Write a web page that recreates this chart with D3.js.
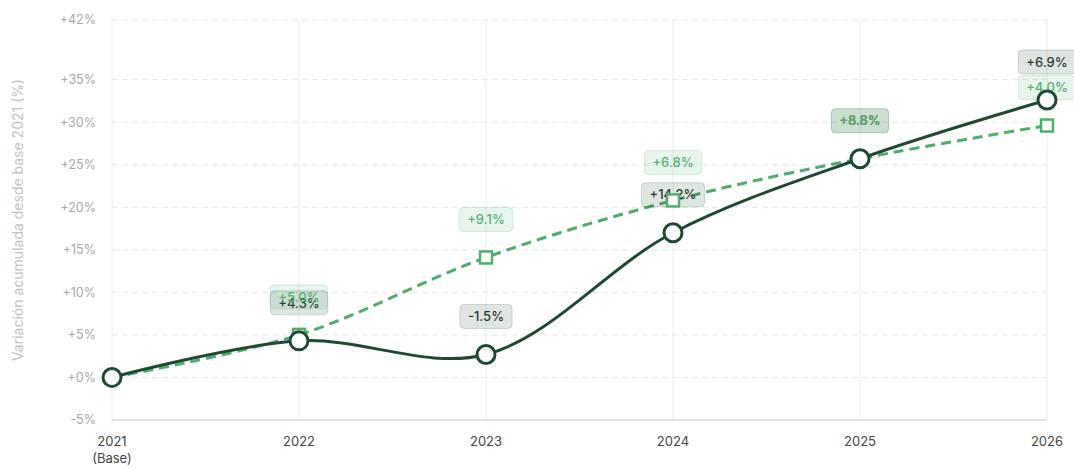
<!DOCTYPE html>
<html>
<head>
<meta charset="utf-8">
<script src="https://cdn.jsdelivr.net/npm/d3@7"></script>
<style>
  body { margin: 0; background: #fff; font-family: Inter, "Noto Sans", sans-serif; }
</style>
</head>
<body>
<div id="chart"></div>
<script>
const years = ["2021", "2022", "2023", "2024", "2025", "2026"];
const darkValues = [0, 4.3, 2.7, 17.0, 25.7, 32.6];
const greenValues = [0, 5.0, 14.1, 20.8, 25.7, 29.6];
const darkLabels = [null, "+4.3%", "-1.5%", "+14.2%", "+8.8%", "+6.9%"];
const greenLabels = [null, "+5.0%", "+9.1%", "+6.8%", "+8.8%", "+4.0%"];
const yTicks = [-5, 0, 5, 10, 15, 20, 25, 30, 35, 42];

const width = 1074, height = 469;
const margin = { top: 20, right: 27, bottom: 49, left: 112 };

const svg = d3.select("#chart").append("svg")
    .attr("width", width)
    .attr("height", height);

const x = d3.scalePoint()
    .domain(years)
    .range([margin.left, width - margin.right]);

const y = d3.scaleLinear()
    .domain([-5, 42])
    .range([height - margin.bottom, margin.top]);

// horizontal grid
svg.append("g")
    .selectAll("line")
    .data(yTicks)
    .enter().append("line")
    .attr("x1", margin.left)
    .attr("x2", width - margin.right)
    .attr("y1", d => y(d))
    .attr("y2", d => y(d))
    .attr("stroke", "#e6e6e6")
    .attr("stroke-dasharray", "6,4");

// vertical grid
svg.append("g")
    .selectAll("line")
    .data(years)
    .enter().append("line")
    .attr("x1", d => x(d))
    .attr("x2", d => x(d))
    .attr("y1", y(42))
    .attr("y2", y(-5))
    .attr("stroke", "#ececec");

// bottom axis line
svg.append("line")
    .attr("x1", margin.left)
    .attr("x2", width - margin.right)
    .attr("y1", y(-5))
    .attr("y2", y(-5))
    .attr("stroke", "#dcdcdc")
    .attr("stroke-width", 1.5);

// y tick labels
svg.append("g")
    .selectAll("text")
    .data(yTicks)
    .enter().append("text")
    .attr("x", 96)
    .attr("y", d => y(d))
    .attr("dy", "0.35em")
    .attr("text-anchor", "end")
    .attr("fill", "#a8a8a8")
    .style("font-size", "12.5px")
    .text(d => (d >= 0 ? "+" : "") + d + "%");

// x tick labels
svg.append("g")
    .selectAll("text")
    .data(years)
    .enter().append("text")
    .attr("x", d => x(d))
    .attr("y", 446)
    .attr("text-anchor", "middle")
    .attr("fill", "#444")
    .style("font-size", "13px")
    .text(d => d);
svg.append("text")
    .attr("x", x("2021"))
    .attr("y", 463)
    .attr("text-anchor", "middle")
    .attr("fill", "#444")
    .style("font-size", "13px")
    .text("(Base)");

// y axis title
svg.append("text")
    .attr("transform", "translate(23," + ((y(42) + y(-5)) / 2) + ") rotate(-90)")
    .attr("text-anchor", "middle")
    .attr("fill", "#c2c2c2")
    .style("font-size", "14px")
    .text("Variación acumulada desde base 2021 (%)");

const line = d3.line()
    .x((d, i) => x(years[i]))
    .y(d => y(d))
    .curve(d3.curveCatmullRom.alpha(0.5));

svg.append("path")
    .datum(greenValues)
    .attr("d", line)
    .attr("fill", "none")
    .attr("stroke", "#4fae6b")
    .attr("stroke-width", 3)
    .attr("stroke-dasharray", "10,6");

svg.append("path")
    .datum(darkValues)
    .attr("d", line)
    .attr("fill", "none")
    .attr("stroke", "#1e4a32")
    .attr("stroke-width", 3);

// labels
function drawLabels(values, labels, fill, stroke, color) {
    const g = svg.append("g");
    values.forEach((v, i) => {
        if (!labels[i]) return;
        const cx = x(years[i]), cy = y(v) - 38;
        const grp = g.append("g");
        const t = grp.append("text")
            .attr("x", cx)
            .attr("y", cy)
            .attr("dy", "0.36em")
            .attr("text-anchor", "middle")
            .attr("fill", color)
            .style("font-size", "13px")
            .style("font-weight", 500)
            .text(labels[i]);
        const w = t.node().getComputedTextLength() + 16;
        grp.insert("rect", "text")
            .attr("x", cx - w / 2)
            .attr("y", cy - 12)
            .attr("width", w)
            .attr("height", 24)
            .attr("rx", 4)
            .attr("fill", fill)
            .attr("stroke", stroke);
    });
}
drawLabels(darkValues, darkLabels, "rgba(30,74,50,0.14)", "rgba(30,74,50,0.18)", "#2c3b32");
drawLabels(greenValues, greenLabels, "rgba(79,174,107,0.13)", "rgba(79,174,107,0.2)", "#56b173");

// markers
svg.append("g")
    .selectAll("rect")
    .data(greenValues)
    .enter().append("rect")
    .attr("x", (d, i) => x(years[i]) - 6)
    .attr("y", d => y(d) - 6)
    .attr("width", 12)
    .attr("height", 12)
    .attr("fill", "#fff")
    .attr("stroke", "#4fae6b")
    .attr("stroke-width", 2.5);

svg.append("g")
    .selectAll("circle")
    .data(darkValues)
    .enter().append("circle")
    .attr("cx", (d, i) => x(years[i]))
    .attr("cy", d => y(d))
    .attr("r", 9)
    .attr("fill", "#fff")
    .attr("stroke", "#1e4a32")
    .attr("stroke-width", 3);
</script>
</body>
</html>
